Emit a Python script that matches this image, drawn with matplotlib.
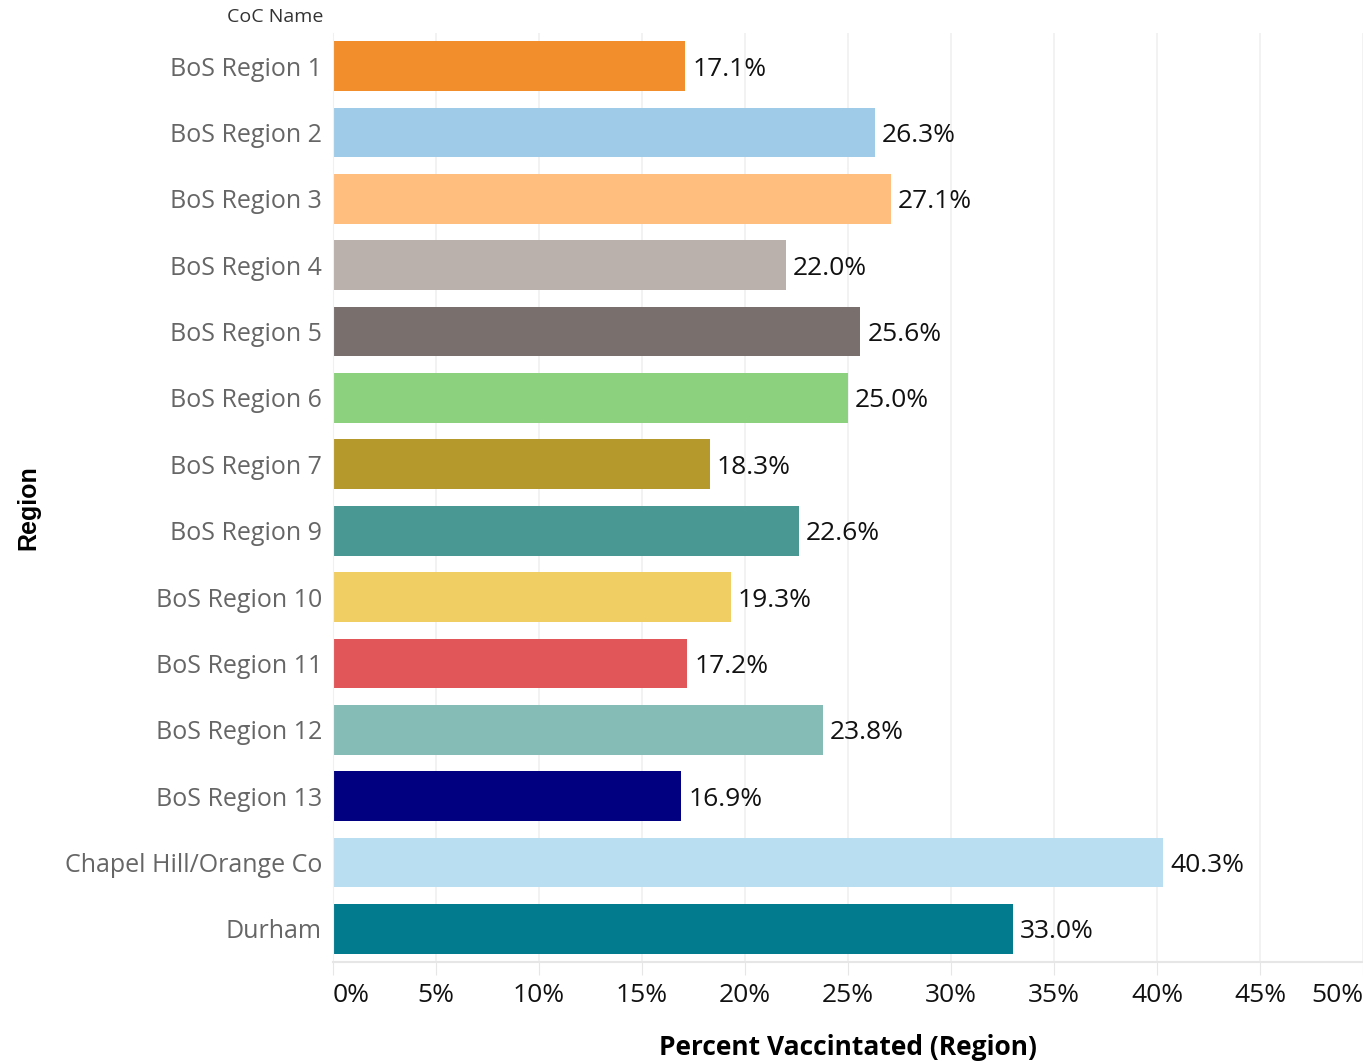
import matplotlib
matplotlib.use("Agg")
import matplotlib.pyplot as plt
import matplotlib.ticker as ticker

regions = ['BoS Region 1', 'BoS Region 2', 'BoS Region 3', 'BoS Region 4',
           'BoS Region 5', 'BoS Region 6', 'BoS Region 7', 'BoS Region 9',
           'BoS Region 10', 'BoS Region 11', 'BoS Region 12', 'BoS Region 13',
           'Chapel Hill/Orange Co', 'Durham']
pct_vaccinated = [17.1, 26.3, 27.1, 22.0, 25.6, 25.0, 18.3, 22.6,
                  19.3, 17.2, 23.8, 16.9, 40.3, 33.0]
bar_colors = ['#F28E2B', '#A0CBE8', '#FFBE7D', '#BAB0AC', '#79706E', '#8CD17D',
              '#B6992D', '#499894', '#F1CE63', '#E15759', '#86BCB6', '#000080',
              '#B9DDF1', '#027B8E']
x_ticks = [0, 5, 10, 15, 20, 25, 30, 35, 40, 45, 50]

plt.rcParams['font.family'] = ['Open Sans', 'DejaVu Sans']

fig = plt.figure(figsize=(13.63, 10.61), dpi=100)
ax = fig.add_axes([333 / 1363, 1 - 962 / 1061, 1 - 333 / 1363, (962 - 33) / 1061])

ypos = list(range(len(regions)))
ax.barh(ypos, pct_vaccinated, height=0.75, color=bar_colors, zorder=2)
for y, v in zip(ypos, pct_vaccinated):
    ax.annotate(f'{v:.1f}%', (v, y), xytext=(5, 0), textcoords='offset points',
                va='center_baseline', ha='left', fontsize=19, color='#111111')

ax.set_ylim(len(regions) - 0.5, -0.5)
ax.set_xlim(0, 50)
ax.set_yticks(ypos)
ax.set_yticklabels(regions, fontsize=18, color='#666666')
ax.tick_params(axis='y', length=0, pad=8)

ax.set_xticks(x_ticks)
ax.xaxis.set_major_formatter(ticker.FuncFormatter(lambda v, p: f'{v:.0f}%'))
ax.tick_params(axis='x', length=9, color='#E6E6E6', labelsize=19, labelcolor='#111111', pad=6)
xlabels = ax.get_xticklabels()
xlabels[0].set_ha('left')
xlabels[-1].set_ha('right')

ax.grid(axis='x', color='#F0F0F0', linewidth=1.2, zorder=0)
for s in ['top', 'right']:
    ax.spines[s].set_visible(False)
ax.spines['bottom'].set_color('#E6E6E6')
ax.spines['bottom'].set_linewidth(1.5)
ax.spines['left'].set_color('#F0F0F0')

ax.set_xlabel('Percent Vaccintated (Region)', fontsize=19, fontweight='bold', labelpad=19)
fig.text(323 / 1363, 1 - 17 / 1061, 'CoC Name', ha='right', va='center', fontsize=14, color='#333333')
fig.text(28 / 1363, 1 - 508 / 1061, 'Region', rotation=90, ha='center', va='center',
         fontsize=18, fontweight='bold', family=['Liberation Sans', 'DejaVu Sans'])

fig.savefig('out.png', dpi=100)
